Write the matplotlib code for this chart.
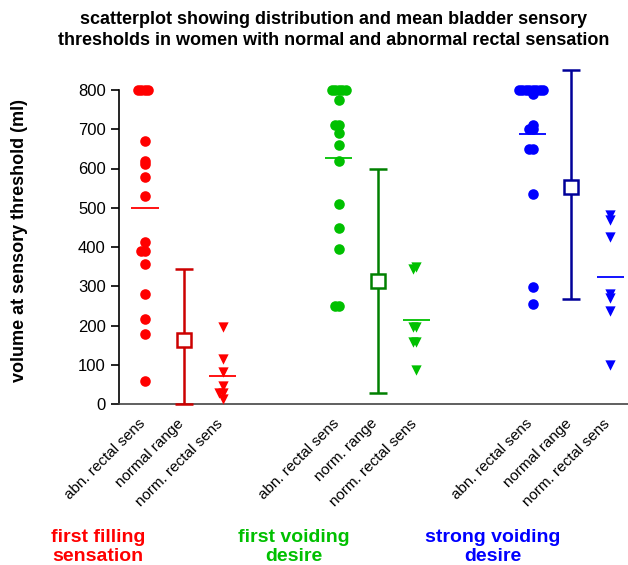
import numpy as np
import matplotlib
matplotlib.use("Agg")
from matplotlib import pyplot as plt
from matplotlib import transforms

plt.rcParams['font.family'] = ['Liberation Sans', 'DejaVu Sans']

# category labels, one per slot
tick_labels = ['abn. rectal sens', 'normal range', 'norm. rectal sens',
               'abn. rectal sens', 'norm. range', 'norm. rectal sens',
               'abn. rectal sens', 'normal range', 'norm. rectal sens']
group_names = ['first filling\nsensation', 'first voiding\ndesire', 'strong voiding\ndesire']

# first filling sensation
ffs_abn = [800, 800, 800, 800, 670, 620, 611, 579, 530, 414, 389, 389, 356, 279, 216, 179, 59]
ffs_norm = [195, 114, 82, 46, 27, 27, 14]
ffs_range = (163, 0, 343)   # centre, low, high

# first voiding desire
fvd_abn = [800, 800, 800, 800, 800, 774, 711, 711, 691, 660, 620, 510, 448, 395, 250, 250]
fvd_norm = [350, 343, 197, 197, 159, 159, 87]
fvd_range = (314, 27, 600)

# strong voiding desire
svd_abn = [800, 800, 800, 800, 800, 800, 800, 800, 790, 711, 700, 700, 650, 650, 534, 299, 254]
svd_norm = [481, 470, 426, 279, 269, 237, 99]
svd_range = (552, 267, 851)

dot_colors = ['#ff0000', '#00c000', '#0000ff']
bar_colors = ['#cc0000', '#008000', '#000099']

PX_PER_SLOT = 38.8
PX_PER_UNIT = 314 / 800.0


def swarm(vals, step=3.5, mind=3.4):
    # little beeswarm: spread points that sit on top of each other
    placed = []
    offs = np.zeros(len(vals))
    order = np.argsort(vals)[::-1]
    cands = [0.0]
    for k in range(1, 12):
        cands += [-k * step, k * step]
    for i in order:
        y = vals[i] * PX_PER_UNIT
        for c in cands:
            if all(np.hypot(c - px, y - py) >= mind for px, py in placed):
                break
        placed.append((c, y))
        offs[i] = c / PX_PER_SLOT
    return offs


fig = plt.figure(figsize=(6.28, 5.65), dpi=100)
ax = fig.add_axes([119 / 628, 161 / 565, 509 / 628, 339 / 565])

groups = [(ffs_abn, ffs_range, ffs_norm), (fvd_abn, fvd_range, fvd_norm),
          (svd_abn, svd_range, svd_norm)]
for g, (abn, rng, norm) in enumerate(groups):
    x0 = g * 5
    abn = np.array(abn, float)
    norm = np.array(norm, float)
    ax.scatter(x0 + swarm(abn), abn, s=58, color=dot_colors[g], lw=0, zorder=3, clip_on=False)
    ax.hlines(abn.mean(), x0 - 0.35, x0 + 0.35, color=dot_colors[g], lw=1.3)
    c, lo, hi = rng
    ax.errorbar(x0 + 1, c, yerr=[[c - lo], [hi - c]], fmt='s', ms=10, mfc='white',
                mec=bar_colors[g], mew=1.8, color=bar_colors[g], elinewidth=1.8,
                capsize=6.5, capthick=1.8, clip_on=False, zorder=3)
    ax.scatter(x0 + 2 + swarm(norm), norm, s=55, marker='v', color=dot_colors[g], lw=0,
               zorder=3, clip_on=False)
    ax.hlines(norm.mean(), x0 + 2 - 0.35, x0 + 2 + 0.35, color=dot_colors[g], lw=1.3)

ax.set_xlim(-0.67, 12.46)
ax.set_ylim(0, 339 / PX_PER_UNIT)
ax.spines['top'].set_visible(False)
ax.spines['right'].set_visible(False)
ax.spines['left'].set_bounds(0, 800)
ax.spines['left'].set_linewidth(1.2)
ax.spines['bottom'].set_linewidth(1.2)
ax.spines['bottom'].set_color('#444444')
ax.set_yticks(range(0, 801, 100))
ax.tick_params(axis='y', labelsize=12, length=6, width=1.2, direction='out')
ax.set_xticks([0, 1, 2, 5, 6, 7, 10, 11, 12])
ax.set_xticklabels(tick_labels, rotation=45, ha='right', rotation_mode='anchor', fontsize=11)
ax.tick_params(axis='x', length=0, pad=6)
shift = transforms.ScaledTranslation(-7 / 100, -4 / 100, fig.dpi_scale_trans)
for lab in ax.get_xticklabels():
    lab.set_transform(lab.get_transform() + shift)

fig.text(334 / 628, 1 - 30 / 565, 'scatterplot showing distribution and mean bladder sensory\n'
         'thresholds in women with normal and abnormal rectal sensation',
         ha='center', va='center', fontsize=13, fontweight='bold', linespacing=1.3)
fig.text(20 / 628, 1 - 240 / 565, 'volume at sensory threshold (ml)', rotation=90,
         ha='center', va='center', fontsize=13, fontweight='bold')

for g, name in enumerate(group_names):
    fig.text([98, 294, 493][g] / 628, 1 - 547 / 565, name, ha='center', va='center',
             fontsize=14, fontweight='bold', color=dot_colors[g], linespacing=1.12)

fig.savefig('out.png', dpi=100)
